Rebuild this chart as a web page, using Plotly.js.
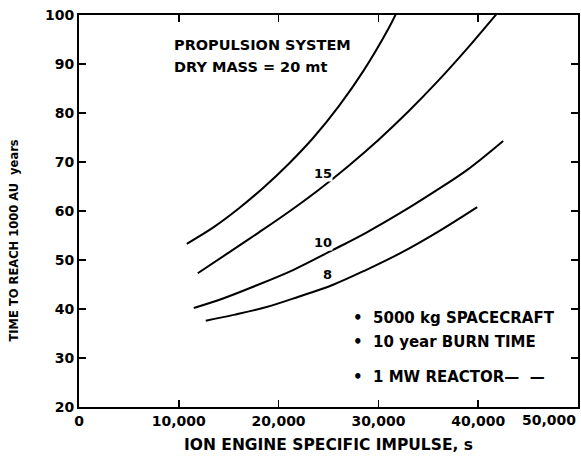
<!DOCTYPE html>
<html>
<head>
<meta charset="utf-8">
<script src="https://cdn.plot.ly/plotly-3.0.1.min.js"></script>
<style>html,body{margin:0;padding:0;background:#fff;}#chart{width:581px;height:457px;}</style>
</head>
<body>
<div id="chart"></div>
<script>
// Specific impulse (s) and time to reach 1000 AU (years) for each curve
const curveTopX = [10800, 13500, 16000, 18500, 21000, 23500, 26000, 28500, 31000, 31800];
const curveTopY = [53.3, 56.7, 60.5, 64.8, 69.6, 75.0, 81.3, 88.6, 97.2, 100.4];
const curve15X = [11900, 15000, 18000, 21000, 24000, 27000, 30000, 33000, 36000, 39000, 42000];
const curve15Y = [47.3, 51.5, 55.6, 59.8, 64.3, 69.2, 74.5, 80.3, 86.6, 93.4, 100.6];
const curve10X = [11500, 14500, 17400, 21500, 25400, 28800, 32200, 35500, 38900, 42500];
const curve10Y = [40.2, 42.2, 44.5, 48.0, 52.0, 55.6, 59.6, 63.8, 68.4, 74.3];
const curve8X = [12700, 15500, 18800, 22000, 25400, 28800, 32200, 36000, 39900];
const curve8Y = [37.6, 38.8, 40.4, 42.5, 44.9, 48.0, 51.4, 55.8, 60.8];
const curveLabels = ["15", "10", "8"];
const labelX = [24400, 24400, 24900];
const labelY = [67.6, 53.6, 47.1];
const xTickVals = [0, 10000, 20000, 30000, 40000];
const xTickText = ["0", "10,000", "20,000", "30,000", "40,000"];
const yTickVals = [20, 30, 40, 50, 60, 70, 80, 90, 100];
const notes = ["PROPULSION SYSTEM", "DRY MASS = 20 mt"];
const bullets = ["•  5000 kg SPACECRAFT", "•  10 year BURN TIME", "•  1 MW REACTOR—\u00a0\u00a0—"];

const lineStyle = {color: '#000', width: 2, shape: 'spline', smoothing: 1};
const traces = [
  {x: curveTopX, y: curveTopY},
  {x: curve15X, y: curve15Y},
  {x: curve10X, y: curve10Y},
  {x: curve8X, y: curve8Y}
].map(t => Object.assign(t, {type: 'scatter', mode: 'lines', line: lineStyle, hoverinfo: 'skip', showlegend: false}));

const font = {family: 'DejaVu Sans, Liberation Sans, sans-serif', color: '#000', weight: 'bold'};
const f = s => Object.assign({}, font, {size: s});
const annotations = [];
curveLabels.forEach((t, i) => annotations.push({
  x: labelX[i], y: labelY[i], xref: 'x', yref: 'y', text: t, showarrow: false,
  bgcolor: '#fff', borderpad: 0, font: f(13)
}));
notes.forEach((t, i) => annotations.push({
  x: 9300, y: 93.9 - i * 4.5, xref: 'x', yref: 'y', text: t, showarrow: false,
  xanchor: 'left', font: f(14.5)
}));
const bulletY = [38.2, 33.3, 26.1];
bullets.forEach((t, i) => annotations.push({
  x: 27300, y: bulletY[i], xref: 'x', yref: 'y', text: t, showarrow: false,
  xanchor: 'left', font: f(15)
}));
annotations.push({
  x: 1, y: 0, xref: 'paper', yref: 'paper', yshift: -13, text: '50,000', showarrow: false,
  xanchor: 'right', yanchor: 'middle', font: f(14)
});
annotations.push({
  x: -0.13, y: 0.425, xref: 'paper', yref: 'paper', text: 'TIME TO REACH 1000 AU\u00a0\u00a0years',
  textangle: -90, showarrow: false, xanchor: 'center', yanchor: 'middle', font: f(11.5)
});

const layout = {
  width: 581, height: 457,
  margin: {l: 79, r: 3, t: 15, b: 50},
  paper_bgcolor: '#fff', plot_bgcolor: '#fff',
  showlegend: false,
  xaxis: {
    range: [0, 50000], tickvals: xTickVals, ticktext: xTickText,
    showgrid: false, zeroline: false, showline: true, linecolor: '#000', linewidth: 2,
    mirror: 'ticks', ticks: 'inside', ticklen: 7, tickwidth: 1.5, tickcolor: '#000',
    tickfont: f(14),
    title: {text: 'ION ENGINE SPECIFIC IMPULSE, s', font: f(15.5), standoff: 11}
  },
  yaxis: {
    range: [20, 100], tickvals: yTickVals,
    showgrid: false, zeroline: false, showline: true, linecolor: '#000', linewidth: 2,
    mirror: 'ticks', ticks: 'inside', ticklen: 7, tickwidth: 1.5, tickcolor: '#000',
    tickfont: f(14)
  },
  annotations: annotations
};
Plotly.newPlot('chart', traces, layout, {staticPlot: true, displayModeBar: false});
</script>
</body>
</html>
